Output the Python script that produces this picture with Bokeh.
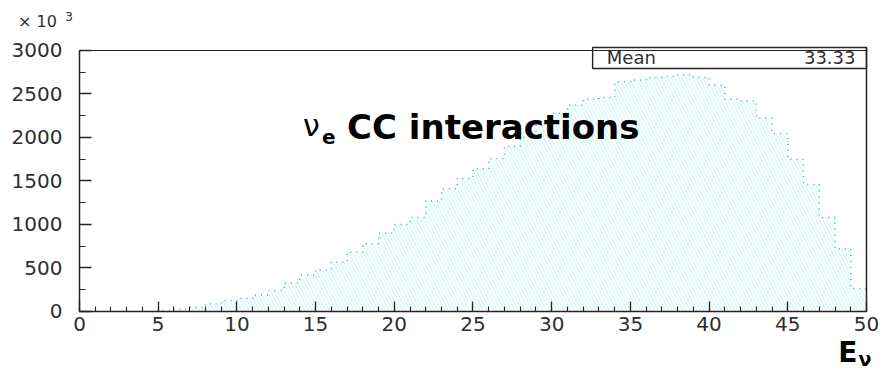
from bokeh.plotting import figure
from bokeh.models import Range1d, SingleIntervalTicker, FixedTicker, LinearAxis, Label
from bokeh.embed import file_html
from bokeh.resources import INLINE

# Neutrino energy histogram, 1-unit bins from 0 to 50
bin_low = list(range(0, 50))
bin_high = [b + 1 for b in bin_low]
counts = [0, 0, 0, 0, 0, 10, 25, 45, 90, 125,
          150, 190, 240, 330, 420, 480, 565, 680, 780, 900,
          1000, 1080, 1270, 1410, 1530, 1640, 1760, 1900, 2000, 2140,
          2280, 2370, 2440, 2460, 2640, 2660, 2690, 2700, 2720, 2690,
          2600, 2440, 2420, 2220, 2045, 1750, 1460, 1080, 720, 265]
mean_label = "Mean"
mean_value = "33.33"
title_main = "CC interactions"

FONT = "DejaVu Sans"
TXT = "#2e2e2e"
AX = "#2a2222"
X_MIN, X_MAX = 0, 50
Y_MIN, Y_MAX = 0, 3000
BOX_TOP = 3034.5

# The frame fills the whole canvas; axes are pinned at the histogram edges
p = figure(width=884, height=370, output_backend="svg", toolbar_location=None,
           x_range=Range1d(-5.019, 51.144), y_range=Range1d(-678.2, 3574.7),
           min_border=0)
p.outline_line_color = None
p.xgrid.visible = False
p.ygrid.visible = False
p.background_fill_color = "white"
p.border_fill_color = "white"

xa = p.xaxis[0]
ya = p.yaxis[0]
xa.fixed_location = Y_MIN
ya.fixed_location = X_MIN
xa.bounds = (X_MIN, X_MAX)
ya.bounds = (Y_MIN, Y_MAX)
xa.ticker = SingleIntervalTicker(interval=5, num_minor_ticks=5)
ya.ticker = SingleIntervalTicker(interval=500, num_minor_ticks=2)
for ax in (xa, ya):
    ax.axis_line_color = AX
    ax.axis_line_width = 1.5
    ax.major_tick_line_color = AX
    ax.minor_tick_line_color = AX
    ax.major_tick_line_width = 1.3
    ax.minor_tick_line_width = 1.1
    ax.major_tick_out = 0
    ax.minor_tick_out = 0
    ax.major_label_text_font = FONT
    ax.major_label_text_font_size = "20px"
    ax.major_label_text_color = TXT
xa.major_tick_in = 10
xa.minor_tick_in = 5
xa.major_label_standoff = 6
ya.major_tick_in = 12
ya.minor_tick_in = 6
ya.major_label_standoff = 17

# plain frame edges on the right and top
right_edge = LinearAxis(fixed_location=X_MAX, bounds=(Y_MIN, BOX_TOP),
                        ticker=FixedTicker(ticks=[]), axis_line_color=AX,
                        axis_line_width=1.5, major_label_text_font_size="0px")
top_edge = LinearAxis(fixed_location=Y_MAX, bounds=(X_MIN, X_MAX),
                      ticker=FixedTicker(ticks=[]), axis_line_color=AX,
                      axis_line_width=1.2, major_label_text_font_size="0px")
p.add_layout(right_edge, "right")
p.add_layout(top_edge, "above")

# hatched histogram body
p.quad(left=bin_low, right=bin_high, bottom=0, top=counts,
       fill_color=None, line_color=None,
       hatch_pattern="\\", hatch_color="#bdf4f5", hatch_weight=0.9, hatch_scale=7)

# dotted step outline
edges = bin_low + [X_MAX]
levels = counts + [counts[-1]]
p.step(x=edges, y=levels, mode="after", line_color="#40a8bb",
       line_width=1.5, line_dash="1 5")

# statistics box
p.quad(left=[32.6], right=[X_MAX], bottom=[2793], top=[BOX_TOP],
       fill_color="white", line_color=AX, line_width=1.4)
p.add_layout(Label(x=33.5, y=2914, text=mean_label, text_font=FONT,
                   text_font_size="18px", text_color=TXT, text_baseline="middle"))
p.add_layout(Label(x=49.3, y=2914, text=mean_value, text_font=FONT,
                   text_font_size="18px", text_color=TXT, text_baseline="middle",
                   text_align="right"))

# in-plot title: nu_e CC interactions
p.add_layout(Label(x=14.2, y=2143, text="ν", text_font=FONT, text_font_size="30px",
                   text_color="black", text_baseline="alphabetic"))
p.add_layout(Label(x=15.4, y=2008, text="e", text_font=FONT, text_font_size="20px",
                   text_font_style="bold", text_color="black", text_baseline="alphabetic"))
p.add_layout(Label(x=17.0, y=2118, text=title_main, text_font=FONT, text_font_size="34px",
                   text_font_style="bold", text_color="black", text_baseline="alphabetic"))

# y scale factor
p.add_layout(Label(x=-3.9, y=3333, text="× 10", text_font=FONT, text_font_size="16px",
                   text_color=TXT, text_baseline="alphabetic"))
p.add_layout(Label(x=-0.9, y=3390, text="3", text_font=FONT, text_font_size="12px",
                   text_color=TXT, text_baseline="alphabetic"))

# x axis title E_nu
p.add_layout(Label(x=48.2, y=-470, text="E", text_font=FONT, text_font_size="28px",
                   text_font_style="bold", text_color="black", text_baseline="alphabetic"))
p.add_layout(Label(x=49.5, y=-550, text="ν", text_font=FONT, text_font_size="19px",
                   text_font_style="bold", text_color="black", text_baseline="alphabetic"))

open("out.html", "w").write(file_html(p, INLINE))
